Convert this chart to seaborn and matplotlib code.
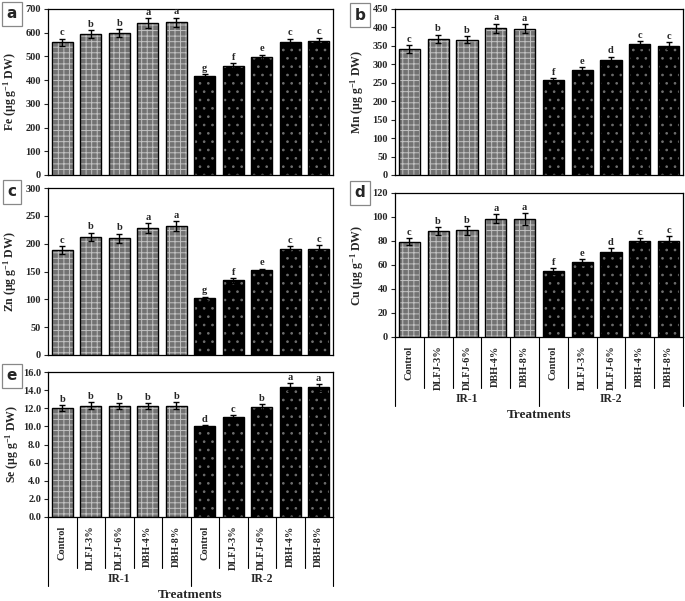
import numpy as np
import pandas as pd
import seaborn as sns
import matplotlib.pyplot as plt

sns.set_style("ticks")
plt.rcParams['font.family'] = ['Liberation Serif', 'DejaVu Serif']
plt.rcParams['font.weight'] = 'bold'
plt.rcParams['mathtext.fontset'] = 'custom'
plt.rcParams['mathtext.rm'] = 'Liberation Serif:bold'
plt.rcParams['mathtext.it'] = 'Liberation Serif:italic:bold'
plt.rcParams['mathtext.bf'] = 'Liberation Serif:bold'
plt.rcParams['hatch.linewidth'] = 0.7

# treatments and irrigation groups
treatments = ["Control", "DLFJ-3%", "DLFJ-6%", "DBH-4%", "DBH-8%"]
groups = ["IR-1", "IR-2"]

# values (IR-1 then IR-2)
fe = [560, 594, 598, 641, 644, 416, 459, 496, 560, 565]
fe_err = [15, 18, 18, 20, 20, 10, 14, 12, 15, 14]
fe_let = ["c", "b", "b", "a", "a", "g", "f", "e", "c", "c"]

mn = [342, 369, 367, 398, 396, 257, 285, 313, 354, 351]
mn_err = [10, 11, 10, 12, 12, 6, 8, 8, 9, 9]
mn_let = ["c", "b", "b", "a", "a", "f", "e", "d", "c", "c"]

zn = [188, 212, 210, 228, 232, 102, 134, 152, 190, 191]
zn_err = [7, 8, 8, 9, 9, 3, 4, 3, 6, 6]
zn_let = ["c", "b", "b", "a", "a", "g", "f", "e", "c", "c"]

cu = [79.5, 88.3, 88.8, 98.6, 98.1, 54.7, 62.6, 71.0, 79.7, 80.3]
cu_err = [3, 3.5, 3.5, 4, 5, 2.5, 2.5, 3, 3, 3.5]
cu_let = ["c", "b", "b", "a", "a", "f", "e", "d", "c", "c"]

se = [12.0, 12.3, 12.25, 12.25, 12.3, 10.0, 11.0, 12.15, 14.35, 14.3]
se_err = [0.35, 0.4, 0.3, 0.3, 0.35, 0.15, 0.25, 0.3, 0.4, 0.35]
se_let = ["b", "b", "b", "b", "b", "d", "c", "b", "a", "a"]

W, H = 685, 601
fig = plt.figure(figsize=(W / 100, H / 100), dpi=100)


def px_axes(left, top, right, bottom):
    return fig.add_axes([left / W, 1 - bottom / H, (right - left) / W, (bottom - top) / H])


def panel(ax, vals, errs, letters, ymax, step, ylab, fmt=None, xlabels=False, lpad=5):
    df = pd.DataFrame({
        "pos": [f"{g}|{t}" for g in groups for t in treatments],
        "val": vals,
        "grp": [g for g in groups for _ in treatments],
    })
    order = list(df["pos"])
    # hatched fill
    sns.barplot(data=df, x="pos", y="val", hue="grp", order=order, dodge=False,
                palette={"IR-1": "#727272", "IR-2": "#000000"}, width=0.74,
                errorbar=None, legend=False, linewidth=0, ax=ax)
    for i, p in enumerate(ax.patches[:len(order)]):
        if i < 5:
            p.set_hatch("+++")
            p.set_edgecolor("#c2c2c2")
        else:
            p.set_hatch("..")
            p.set_edgecolor("#6e6e6e")
        p.set_linewidth(0)
    # outlines
    sns.barplot(data=df, x="pos", y="val", order=order, fill=False, color="black",
                width=0.74, errorbar=None, linewidth=1.0, edgecolor="black", ax=ax)
    x = np.arange(len(vals))
    ax.errorbar(x, vals, yerr=errs, fmt="none", ecolor="black", elinewidth=1,
                capsize=2.5, capthick=1)
    for xi, v, e, l in zip(x, vals, errs, letters):
        ax.text(xi, v + e + ymax * 0.008, l, ha="center", va="bottom", fontsize=7.5,
                fontweight="bold")
    ax.set_xlim(-0.5, 9.5)
    ax.set_ylim(0, ymax)
    ticks = np.arange(0, ymax + step / 2, step)
    ax.set_yticks(ticks)
    if fmt:
        ax.set_yticklabels([fmt % t for t in ticks])
    ax.tick_params(axis="y", labelsize=7.5, length=3, width=0.8, pad=2)
    ax.set_ylabel(ylab, fontsize=8.5, fontweight="bold", labelpad=lpad)
    ax.set_xlabel("")
    for s in ax.spines.values():
        s.set_linewidth(0.9)
        s.set_color("black")
    ax.tick_params(axis="x", length=0)
    if not xlabels:
        ax.set_xticklabels([])
        return
    ax.set_xticks(x)
    ax.set_xticklabels(treatments * 2, rotation=90, fontsize=7.5, fontweight="bold", va="top")
    ax.tick_params(axis="x", pad=6)
    h = ax.get_position().height * H
    tr = ax.get_xaxis_transform()
    short = -51 / h
    long_ = -69 / h
    for k in range(11):
        xs = k - 0.5
        yend = long_ if k in (0, 5, 10) else short
        ax.plot([xs, xs], [0, yend], transform=tr, color="black", lw=0.8, clip_on=False)
    ax.text(2, -62 / h, "IR-1", transform=tr, ha="center", va="center", fontsize=8.5,
            fontweight="bold")
    ax.text(7, -62 / h, "IR-2", transform=tr, ha="center", va="center", fontsize=8.5,
            fontweight="bold")
    ax.text(4.5, -78 / h, "Treatments", transform=tr, ha="center", va="center",
            fontsize=9.5, fontweight="bold")


ax_a = px_axes(48, 9, 333, 175)
ax_b = px_axes(395, 9, 683, 175)
ax_c = px_axes(48, 188, 333, 355)
ax_d = px_axes(395, 193, 683, 337)
ax_e = px_axes(48, 372, 333, 517)

panel(ax_a, fe, fe_err, fe_let, 700, 100, "Fe (µg g$^{-1}$ DW)")
panel(ax_b, mn, mn_err, mn_let, 450, 50, "Mn (µg g$^{-1}$ DW)")
panel(ax_c, zn, zn_err, zn_let, 300, 50, "Zn (µg g$^{-1}$ DW)")
panel(ax_d, cu, cu_err, cu_let, 120, 20, "Cu (µg g$^{-1}$ DW)", xlabels=True)
panel(ax_e, se, se_err, se_let, 16, 2, "Se (µg g$^{-1}$ DW)", fmt="%.1f", xlabels=True,
      lpad=1)

# panel letters
for lab, cx, cy in [("a", 12, 14), ("b", 360, 15), ("c", 12, 192), ("d", 360, 193),
                    ("e", 12, 376)]:
    fig.text(cx / W, 1 - cy / H, lab, ha="center", va="center", fontsize=11,
             fontweight="bold", family="DejaVu Sans",
             bbox=dict(boxstyle="square,pad=0.3", fc="white", ec="#888888", lw=0.9))

fig.savefig("out.png", dpi=100)
